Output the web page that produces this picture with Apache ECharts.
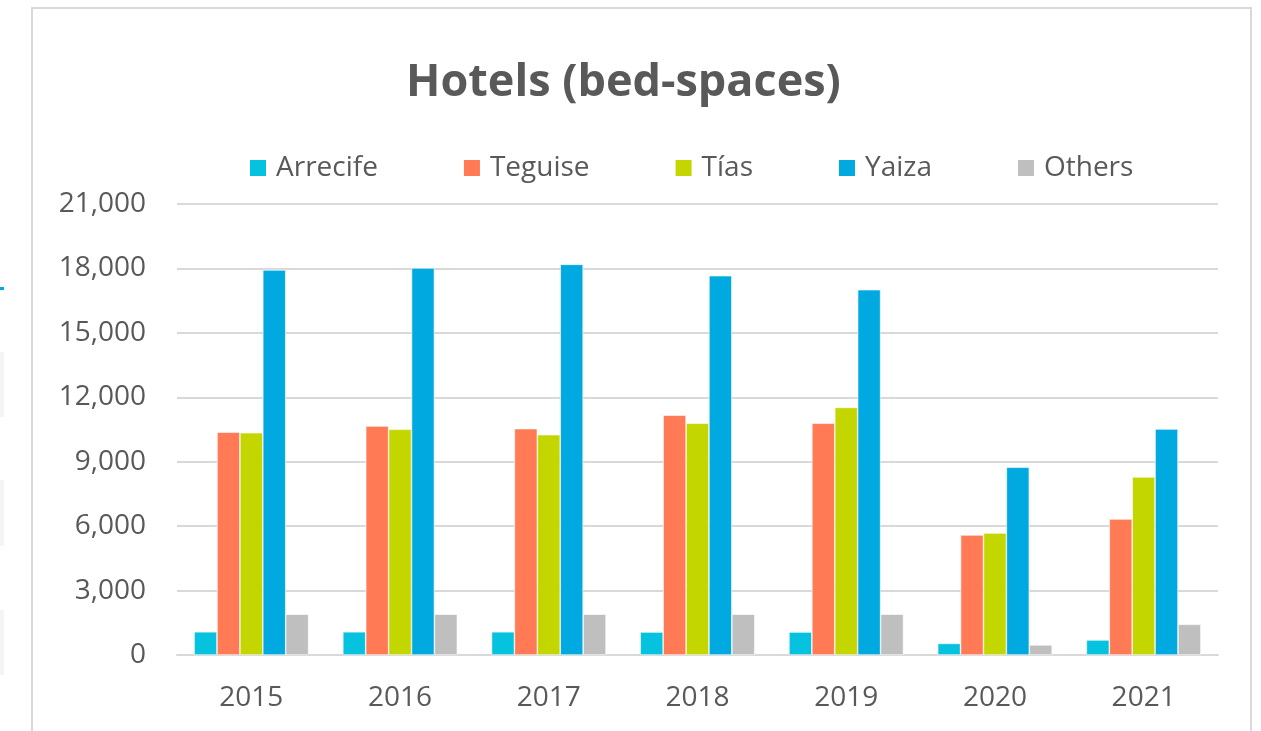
<!DOCTYPE html>
<html>
<head>
<meta charset="utf-8">
<script src="https://cdn.jsdelivr.net/npm/echarts@6/dist/echarts.min.js"></script>
<style>
html,body{margin:0;padding:0;background:#fff;}
#chart{width:1261px;height:731px;}
</style>
</head>
<body>
<div id="chart"></div>
<script>
const years = ['2015','2016','2017','2018','2019','2020','2021'];
const arrecife = [1080, 1080, 1080, 1070, 1070, 540, 700];
const teguise  = [10380, 10660, 10540, 11170, 10790, 5590, 6330];
const tias     = [10350, 10510, 10260, 10790, 11530, 5680, 8290];
const yaiza    = [17930, 18020, 18190, 17660, 17010, 8740, 10520];
const others   = [1900, 1900, 1900, 1900, 1900, 470, 1430];
const seriesNames = ['Arrecife','Teguise','Tías','Yaiza','Others'];
const colors = ['#05C3DE','#FF7A55','#C4D600','#00A9E0','#BFBFBF'];
const yTicks = [0, 3000, 6000, 9000, 12000, 15000, 18000, 21000];

const font = '"Open Sans", sans-serif';
const textColor = '#595959';
const chart = echarts.init(document.getElementById('chart'));
const dataSets = [arrecife, teguise, tias, yaiza, others];

chart.setOption({
  animation: false,
  backgroundColor: '#ffffff',
  title: {
    text: 'Hotels (bed-spaces)',
    left: 401,
    top: 56,
    textStyle: { fontFamily: font, fontSize: 45, fontWeight: 'bold', color: textColor }
  },
  legend: {
    left: 248,
    top: 154,
    padding: 0,
    itemWidth: 18,
    itemHeight: 18,
    itemGap: 84,
    icon: 'rect',
    textStyle: { fontFamily: font, fontSize: 28, color: textColor, padding: [0,0,0,4] },
    data: seriesNames
  },
  grid: { left: 177, right: 43, top: 204, bottom: 76, containLabel: false },
  xAxis: {
    type: 'category',
    data: years,
    axisLine: { lineStyle: { color: '#D9D9D9', width: 2 } },
    axisTick: { show: false },
    axisLabel: { fontFamily: font, fontSize: 28, color: textColor, margin: 29 }
  },
  yAxis: {
    type: 'value',
    min: yTicks[0],
    max: yTicks[yTicks.length - 1],
    interval: 3000,
    axisLine: { show: false },
    axisTick: { show: false },
    splitLine: { lineStyle: { color: '#D9D9D9', width: 2 } },
    axisLabel: {
      fontFamily: font, fontSize: 28, color: textColor, margin: 31,
      formatter: v => v.toLocaleString('en-US')
    }
  },
  graphic: [
    { type: 'rect', shape: { x: 32, y: 8, width: 1219, height: 740 }, style: { fill: 'none', stroke: '#D9D9D9', lineWidth: 2 }, z: -1 },
    { type: 'rect', shape: { x: 0, y: 287, width: 4, height: 3 }, style: { fill: '#00A9E0' } },
    { type: 'rect', shape: { x: 0, y: 352, width: 4, height: 65 }, style: { fill: '#F4F4F4' } },
    { type: 'rect', shape: { x: 0, y: 480, width: 4, height: 66 }, style: { fill: '#F4F4F4' } },
    { type: 'rect', shape: { x: 0, y: 610, width: 4, height: 65 }, style: { fill: '#F4F4F4' } }
  ],
  series: seriesNames.map((name, i) => ({
    name: name,
    type: 'bar',
    data: dataSets[i],
    barGap: '0%',
    barCategoryGap: '23%',
    itemStyle: { color: colors[i], borderColor: '#ffffff', borderWidth: 0.6 }
  }))
});
</script>
</body>
</html>
